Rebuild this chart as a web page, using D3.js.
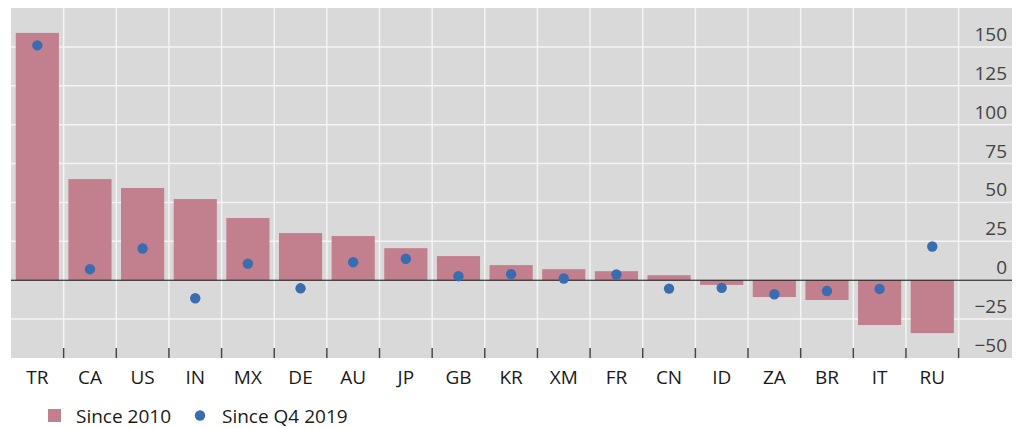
<!DOCTYPE html>
<html>
<head>
<meta charset="utf-8">
<script src="https://cdn.jsdelivr.net/npm/d3@7"></script>
<style>
  body { margin: 0; background: #fff; }
  svg text { font-family: "Open Sans", "Noto Sans", sans-serif; }
</style>
</head>
<body>
<div id="chart"></div>
<script>
// country codes along the x axis
var countries = ["TR","CA","US","IN","MX","DE","AU","JP","GB","KR","XM","FR","CN","ID","ZA","BR","IT","RU"];
// bars: change since 2010
var since2010 = [159, 65, 59.3, 52.2, 40, 30.3, 28.4, 20.6, 15.5, 9.7, 7.1, 5.8, 3.2, -3, -10.8, -12.7, -28.8, -34];
// dots: change since Q4 2019
var sinceQ42019 = [151, 7.1, 20.4, -11.6, 10.7, -5.2, 11.6, 13.8, 2.6, 3.9, 1.1, 3.7, -5.4, -4.9, -9, -6.9, -5.6, 21.7];
var yTicks = [-50, -25, 0, 25, 50, 75, 100, 125, 150];
var legendLabels = ["Since 2010", "Since Q4 2019"];

function drawChart(){

    var width = 1020,
        height = 428;

    var plot = {left: 11, right: 1012, top: 8, bottom: 358},
        bandRight = 958.6;

    var svg = d3.select("#chart")
        .append("svg")
        .attr("width", width)
        .attr("height", height);

    var x = d3.scaleBand()
        .domain(countries)
        .range([plot.left, bandRight])
        .paddingInner(0.18)
        .paddingOuter(0.09);

    var y = d3.scaleLinear()
        .domain([-50, 175])
        .range([plot.bottom, plot.top]);

    //grey panel
    svg.append("rect")
        .attr("x", plot.left)
        .attr("y", plot.top)
        .attr("width", plot.right - plot.left)
        .attr("height", plot.bottom - plot.top)
        .attr("fill", "#d9d9d9");

    //horizontal gridlines
    svg.append("g")
        .selectAll("line")
        .data(yTicks.filter(function(d){ return d !== 0 && d !== -50; }))
        .enter()
        .append("line")
        .attr("x1", plot.left)
        .attr("x2", plot.right)
        .attr("y1", function(d){ return y(d); })
        .attr("y2", function(d){ return y(d); })
        .attr("stroke", "#f4f4f4")
        .attr("stroke-width", 1.5);

    //vertical gridlines between categories
    var step = x.step();
    var bounds = countries.map(function(c, i){ return plot.left + step * (i + 1); });
    svg.append("g")
        .selectAll("line")
        .data(bounds)
        .enter()
        .append("line")
        .attr("x1", function(d){ return d; })
        .attr("x2", function(d){ return d; })
        .attr("y1", plot.top)
        .attr("y2", plot.bottom)
        .attr("stroke", "#f4f4f4")
        .attr("stroke-width", 1.5);

    //bars
    svg.append("g")
        .selectAll("rect")
        .data(countries)
        .enter()
        .append("rect")
        .attr("x", function(d){ return x(d); })
        .attr("width", x.bandwidth())
        .attr("y", function(d, i){ return y(Math.max(0, since2010[i])); })
        .attr("height", function(d, i){ return Math.abs(y(since2010[i]) - y(0)); })
        .attr("fill", "#c27f8d");

    //zero line
    svg.append("line")
        .attr("x1", plot.left)
        .attr("x2", plot.right)
        .attr("y1", y(0))
        .attr("y2", y(0))
        .attr("stroke", "#111")
        .attr("stroke-width", 1);

    //dots
    svg.append("g")
        .selectAll("circle")
        .data(countries)
        .enter()
        .append("circle")
        .attr("cx", function(d){ return x(d) + x.bandwidth() / 2; })
        .attr("cy", function(d, i){ return y(sinceQ42019[i]); })
        .attr("r", 5.2)
        .attr("fill", "#3a6cb0");

    //x ticks at category boundaries
    svg.append("g")
        .selectAll("line")
        .data(bounds)
        .enter()
        .append("line")
        .attr("x1", function(d){ return d; })
        .attr("x2", function(d){ return d; })
        .attr("y1", plot.bottom - 10)
        .attr("y2", plot.bottom)
        .attr("stroke", "#444")
        .attr("stroke-width", 1.5);

    //x labels
    svg.append("g")
        .selectAll("text")
        .data(countries)
        .enter()
        .append("text")
        .attr("x", function(d){ return x(d) + x.bandwidth() / 2; })
        .attr("y", 383.5)
        .attr("text-anchor", "middle")
        .attr("font-size", 19)
        .attr("fill", "#1a1a1a")
        .text(function(d){ return d; });

    //y labels, right side, sitting above the gridlines
    svg.append("g")
        .selectAll("text")
        .data(yTicks)
        .enter()
        .append("text")
        .attr("x", 1007)
        .attr("y", function(d){ return y(d) - 6; })
        .attr("text-anchor", "end")
        .attr("font-size", 19)
        .attr("fill", "#444")
        .text(function(d){ return d < 0 ? "\u2212" + Math.abs(d) : d; });

    //legend
    var lg = svg.append("g");
    lg.append("rect")
        .attr("x", 48)
        .attr("y", 409)
        .attr("width", 13)
        .attr("height", 13)
        .attr("fill", "#c27f8d");
    lg.append("text")
        .attr("x", 76)
        .attr("y", 422.5)
        .attr("font-size", 19)
        .attr("fill", "#1a1a1a")
        .text(legendLabels[0]);
    lg.append("circle")
        .attr("cx", 200)
        .attr("cy", 415.5)
        .attr("r", 5.2)
        .attr("fill", "#3a6cb0");
    lg.append("text")
        .attr("x", 222)
        .attr("y", 422.5)
        .attr("font-size", 19)
        .attr("fill", "#1a1a1a")
        .text(legendLabels[1]);
}

window.onload = drawChart();
</script>
</body>
</html>
